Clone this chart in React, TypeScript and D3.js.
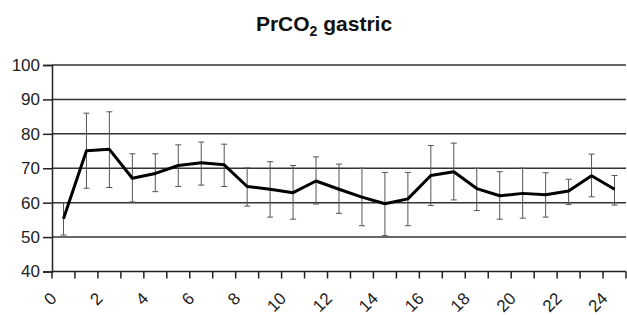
import { useRef, useEffect } from "react";
import * as d3 from "d3";

// hours 0..24
const hours = d3.range(0, 25).map(String);
const means = [55.3, 75.1, 75.5, 67.1, 68.5, 70.8, 71.6, 71.0, 64.7, 63.9, 62.9, 66.3, 63.9, 61.6, 59.7, 61.1, 67.9, 69.0, 64.1, 62.0, 62.7, 62.3, 63.4, 67.8, 63.9];
const upper = [60.0, 86.0, 86.4, 74.2, 74.2, 76.8, 77.6, 77.0, 70.1, 71.9, 70.8, 73.3, 71.2, 70.0, 68.8, 68.8, 76.6, 77.3, 70.0, 69.0, 70.0, 68.7, 66.8, 74.1, 67.9];
const lower = [50.6, 64.2, 64.4, 60.2, 63.2, 64.7, 65.1, 64.7, 59.0, 55.8, 55.2, 59.6, 56.9, 53.3, 50.4, 53.3, 59.2, 60.8, 57.7, 55.2, 55.5, 55.8, 59.5, 61.7, 59.3];
const yTicks = [40, 50, 60, 70, 80, 90, 100];

export default function App() {
  const svgRef = useRef<SVGSVGElement>(null);

  useEffect(() => {
    const w = 627;
    const h = 315;
    const left = 52;
    const right = 626;
    const top = 65;
    const bottom = 271.5;
    const font = "'Liberation Sans', Arial, sans-serif";

    const svg = d3.select(svgRef.current).attr("width", w).attr("height", h);
    svg.selectAll("*").remove();

    const x = d3.scaleBand().domain(hours).range([left, right]);
    const y = d3.scaleLinear().domain([40, 100]).range([bottom, top]);
    const cx = (i: number) => (x(hours[i]) as number) + x.bandwidth() / 2;

    // title
    const title = svg
      .append("text")
      .attr("x", 324)
      .attr("y", 31)
      .attr("text-anchor", "middle")
      .style("font-family", font)
      .style("font-weight", "bold")
      .style("font-size", "21px")
      .style("fill", "#111");
    title.append("tspan").text("PrCO");
    title.append("tspan").text("2").attr("dy", 5).style("font-size", "14px");
    title.append("tspan").text(" gastric").attr("dy", -5);

    // gridlines
    svg
      .append("g")
      .selectAll("line")
      .data(yTicks.filter((t) => t > 40))
      .join("line")
      .attr("x1", left)
      .attr("x2", right)
      .attr("y1", (d) => y(d))
      .attr("y2", (d) => y(d))
      .style("stroke", "#333")
      .style("stroke-width", 1.5);

    // y axis
    const yAxis = d3.axisLeft(y).tickValues(yTicks).tickSize(9).tickPadding(3);
    const gy = svg.append("g").attr("transform", `translate(${left},0)`).call(yAxis);
    gy.selectAll("path, line").style("stroke", "#222").style("stroke-width", 1.5);
    gy.selectAll("text")
      .style("font-family", font)
      .style("font-size", "17px")
      .style("fill", "#222");

    // x axis: ticks at band boundaries
    const boundaries = hours.map((d) => x(d) as number).concat([right]);
    const gx = svg.append("g");
    gx.append("line")
      .attr("x1", left)
      .attr("x2", right)
      .attr("y1", bottom)
      .attr("y2", bottom)
      .style("stroke", "#222")
      .style("stroke-width", 1.5);
    gx.selectAll("line.tick")
      .data(boundaries)
      .join("line")
      .attr("class", "tick")
      .attr("x1", (d) => d)
      .attr("x2", (d) => d)
      .attr("y1", bottom)
      .attr("y2", bottom + 7)
      .style("stroke", "#222")
      .style("stroke-width", 1.5);
    gx.selectAll("text")
      .data(hours.filter((d, i) => i % 2 === 0))
      .join("text")
      .attr("transform", (d) => `translate(${(x(d) as number) + 5.7},${bottom + 28}) rotate(-45)`)
      .attr("text-anchor", "end")
      .style("font-family", font)
      .style("font-size", "17px")
      .style("fill", "#222")
      .text((d) => d);

    // error bars
    const eb = svg.append("g").style("stroke", "#555").style("stroke-width", 1);
    means.forEach((m, i) => {
      const px = cx(i);
      eb.append("line").attr("x1", px).attr("x2", px).attr("y1", y(upper[i])).attr("y2", y(lower[i]));
      eb.append("line").attr("x1", px - 3).attr("x2", px + 3).attr("y1", y(upper[i])).attr("y2", y(upper[i]));
      eb.append("line").attr("x1", px - 3).attr("x2", px + 3).attr("y1", y(lower[i])).attr("y2", y(lower[i]));
    });

    // mean line
    const line = d3
      .line<number>()
      .x((d, i) => cx(i))
      .y((d) => y(d));
    svg
      .append("path")
      .datum(means)
      .attr("d", line)
      .style("fill", "none")
      .style("stroke", "#000")
      .style("stroke-width", 3)
      .style("stroke-linejoin", "round");
  }, []);

  return (
    <div style={{ position: "absolute", left: 0, top: 0 }}>
      <svg ref={svgRef} style={{ display: "block", background: "#fff" }}></svg>
    </div>
  );
}
